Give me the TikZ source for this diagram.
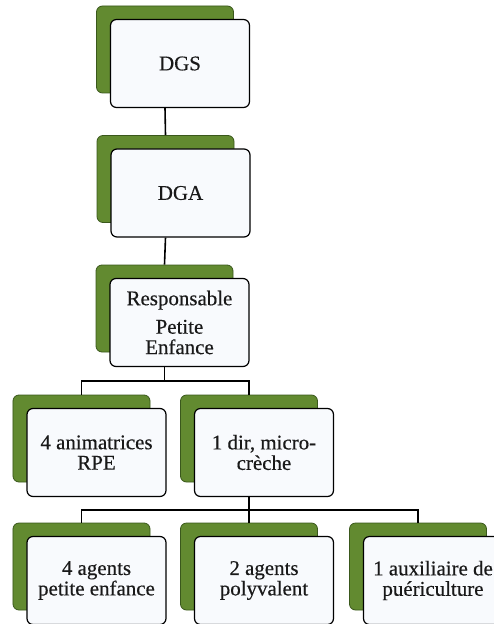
\documentclass[tikz,border=0pt]{standalone}
\usepackage{fontspec}
\setmainfont{Liberation Serif}
\newfontfamily\cartefont{Liberation Serif}[FakeBold=0.4]
\usetikzlibrary{calc}

\definecolor{vertcarte}{RGB}{98,138,48}
\definecolor{vertfonce}{RGB}{58,88,28}
\definecolor{fondcarte}{RGB}{248,250,253}
\definecolor{encre}{RGB}{25,25,25}

\tikzset{
  carte/.style={draw=black, line width=1.2pt, rounded corners=6bp, fill=fondcarte,
    minimum width=139bp, minimum height=88bp, inner sep=0pt, align=center,
    text=encre, font=\cartefont\fontsize{21}{20.5}\selectfont},
  ombre/.style={draw=vertfonce, line width=0.8pt, rounded corners=6bp, fill=vertcarte,
    minimum width=137bp, minimum height=87bp, inner sep=0pt},
  lien/.style={line width=1.6pt, draw=black}
}

\begin{document}
\begin{tikzpicture}[x=1bp, y=-1bp]

    % cadre de la page
    \useasboundingbox (0,0) rectangle (494,624);
    \clip (0,0) rectangle (494,624);

    % les ombres vertes (derriere les cartes)
    \node[ombre] (ombre-dgs)  at (165,49.5) {};
    \node[ombre] (ombre-dga)  at (165.5,179) {};
    \node[ombre] (ombre-resp) at (164.5,308.5) {};
    \node[ombre] (ombre-anim) at (81.5,438.5) {};
    \node[ombre] (ombre-dir)  at (249,438.5) {};
    \node[ombre] (ombre-agpe) at (81.5,566.5) {};
    \node[ombre] (ombre-agpo) at (249,566.5) {};
    \node[ombre] (ombre-aux)  at (418,566.5) {};

    % les cartes blanches
    \node[carte] (dgs)  at (180,63.5) {DGS};
    \node[carte] (dga)  at (180.5,193) {DGA};
    \node[carte] (resp) at (179.5,322.5) {Responsable\\[8bp] Petite\\ Enfance};
    \node[carte] (anim) at (96.5,452.5) {4 animatrices\\ RPE};
    \node[carte] (dir)  at (264,452.5) {1 dir, micro-\\ crèche};
    \node[carte] (agpe) at (96.5,580.5) {4 agents\\ petite enfance};
    \node[carte] (agpo) at (264,580.5) {2 agents\\ polyvalent};
    \node[carte] (aux)  at (433,580.5) {1 auxiliaire de\\ puériculture};

    % liaisons verticales
    \draw[lien] (ombre-dgs |- dgs.south) -- (ombre-dga.north);
    \draw[lien] (ombre-dga |- dga.south) -- (ombre-resp.north);

    % premiere branche
    \coordinate (barre1) at ($(resp.south)!0.5!(ombre-anim.north)$);
    \draw[lien] (ombre-resp |- resp.south) -- (ombre-resp |- barre1);
    \draw[lien] (ombre-anim.north) |- (barre1 -| ombre-dir) -- (ombre-dir.north);

    % deuxieme branche
    \coordinate (barre2) at ($(dir.south)!0.5!(ombre-agpo.north)$);
    \draw[lien] (ombre-dir |- dir.south) -- (ombre-dir |- barre2);
    \draw[lien] (ombre-agpe.north) |- (barre2 -| ombre-aux) -- (ombre-aux.north);
    \draw[lien] (ombre-agpo |- barre2) -- (ombre-agpo.north);

\end{tikzpicture}
\end{document}
